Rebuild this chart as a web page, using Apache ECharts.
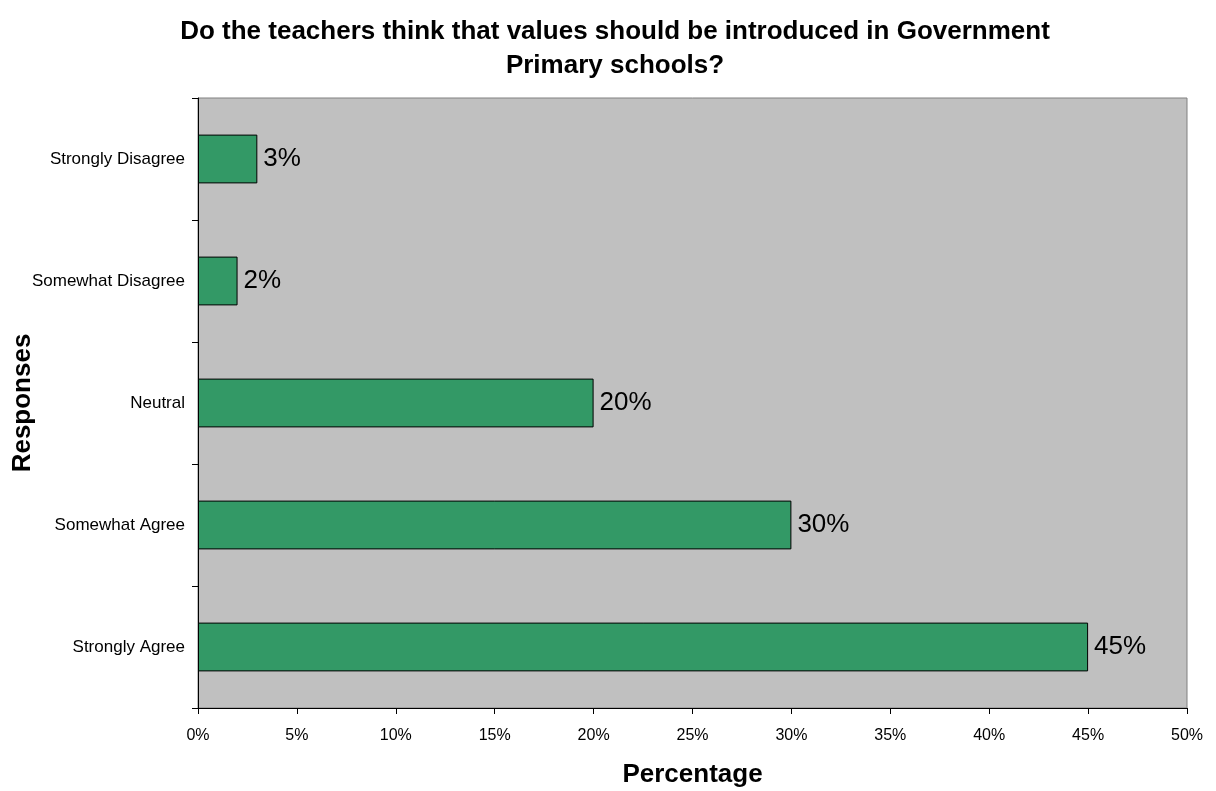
<!DOCTYPE html>
<html>
<head>
<meta charset="utf-8">
<script src="https://cdn.jsdelivr.net/npm/echarts@6/dist/echarts.min.js"></script>
<style>
  html, body { margin: 0; padding: 0; background: #fff; }
  #chart { width: 1216px; height: 791px; }
</style>
</head>
<body>
<div id="chart"></div>
<script>
// Survey responses, bottom to top on the category axis
const categories = ['Strongly Agree', 'Somewhat Agree', 'Neutral', 'Somewhat Disagree', 'Strongly Disagree'];
const percentages = [45, 30, 20, 2, 3];
const xTicks = [0, 5, 10, 15, 20, 25, 30, 35, 40, 45, 50];

const chart = echarts.init(document.getElementById('chart'));
const font = 'Liberation Sans, Arial, sans-serif';

chart.setOption({
  animation: false,
  title: {
    text: 'Do the teachers think that values should be introduced in Government\nPrimary schools?',
    left: 610,
    top: 10,
    textAlign: 'center',
    textStyle: { fontFamily: font, fontSize: 26, fontWeight: 'bold', color: '#000', lineHeight: 34 }
  },
  grid: {
    left: 198, right: 29, top: 98, bottom: 83,
    outerBoundsMode: 'none',
    containLabel: false,
    show: true, backgroundColor: '#c0c0c0', borderColor: '#808080', borderWidth: 1
  },
  xAxis: {
    type: 'value',
    min: xTicks[0],
    max: xTicks[xTicks.length - 1],
    interval: 5,
    name: 'Percentage',
    nameLocation: 'middle',
    nameGap: 54,
    nameMoveOverlap: false,
    nameTextStyle: { fontFamily: font, fontSize: 26, fontWeight: 'bold', color: '#000' },
    axisLine: { show: true, lineStyle: { color: '#000', width: 1 } },
    axisTick: { show: true, length: 6, lineStyle: { color: '#000' } },
    axisLabel: { formatter: '{value}%', fontFamily: font, fontSize: 16, color: '#000', margin: 20 },
    splitLine: { show: false }
  },
  yAxis: {
    type: 'category',
    data: categories,
    name: 'Responses',
    nameLocation: 'middle',
    nameGap: 162,
    nameMoveOverlap: false,
    nameTextStyle: { fontFamily: font, fontSize: 26, fontWeight: 'bold', color: '#000' },
    axisLine: { show: true, lineStyle: { color: '#000', width: 1 } },
    axisTick: { show: true, length: 6, lineStyle: { color: '#000' } },
    axisLabel: { fontFamily: font, fontSize: 17, color: '#000', margin: 13 }
  },
  series: [{
    type: 'bar',
    data: percentages,
    barWidth: '40%',
    itemStyle: { color: '#339966', borderColor: '#000', borderWidth: 1 },
    label: {
      show: true,
      position: 'right',
      distance: 6,
      formatter: '{c}%',
      fontFamily: font,
      fontSize: 26,
      color: '#000'
    }
  }]
});
</script>
</body>
</html>
